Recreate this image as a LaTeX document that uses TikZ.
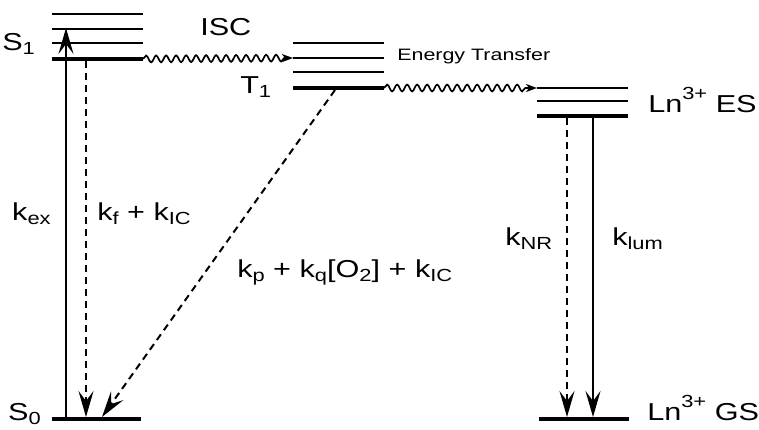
\documentclass[tikz,border=0pt]{standalone}
\usepackage{fontspec}
\setmainfont{Liberation Sans}
\usetikzlibrary{arrows.meta,decorations.pathmorphing}
\newcommand{\mysub}[1]{\raisebox{-0.2em}{\fontsize{17.5}{17.5}\selectfont #1}}
\newcommand{\mysup}[1]{\raisebox{0.5em}{\fontsize{17.5}{17.5}\selectfont #1}}
\tikzset{
 lvl/.style={line width=2.4pt},
 lvlthick/.style={line width=4pt},
 lbl/.style={inner sep=0pt, anchor=base west, font=\fontsize{24.5}{28}\selectfont, xscale=1.25},
 smalllbl/.style={inner sep=0pt, anchor=base west, font=\fontsize{16.5}{20}\selectfont, xscale=1.3},
 arrtip/.style={-{Stealth[length=26pt,width=15pt,inset=10pt]}},
 solidarr/.style={arrtip, line width=2pt},
 dasharr/.style={arrtip, line width=2pt, dash pattern=on 7pt off 5pt},
 wavy/.style={line width=1.7pt, decorate, decoration={snake, amplitude=3.4pt, segment length=10pt, post length=7pt}, -{Stealth[length=11pt,width=8pt,inset=3pt]}},
}
\begin{document}
\begin{tikzpicture}[x=1pt,y=-1pt]
\useasboundingbox (0,0) rectangle (759,429);
% S1 levels
\draw[lvl] (52,14) -- (143,14);
\draw[lvl] (52,29) -- (143,29);
\draw[lvl] (52,43) -- (143,43);
\draw[lvlthick] (52,59) coordinate (s1l) -- (143,59) coordinate (s1r);
% T1 levels
\draw[lvl] (293,43) -- (384,43);
\draw[lvl] (293,58) coordinate (t2l) -- (384,58);
\draw[lvl] (293,72) -- (384,72);
\draw[lvlthick] (293,88) coordinate (t1l) -- (384,88) coordinate (t1r);
% Ln ES levels
\draw[lvl] (537,88) coordinate (esl) -- (628,88);
\draw[lvl] (537,101) -- (628,101);
\draw[lvlthick] (537,116) -- (628,116);
% ground states
\draw[lvlthick] (52,419) -- (141,419);
\draw[lvlthick] (539,419) -- (629,419);
% anchor coordinates for transitions
\coordinate (exb) at (66,419);
\coordinate (ext) at (66,28);
\coordinate (kft) at (86,61);
\coordinate (kfb) at (86,417);
\coordinate (kpt) at (335,90);
\coordinate (kpb) at (102,417);
\coordinate (nrt) at (567,118);
\coordinate (nrb) at (567,417);
\coordinate (lut) at (593,118);
\coordinate (lub) at (593,417);
% transitions
\draw[solidarr] (exb) -- (ext);
\draw[dasharr] (kft) -- (kfb);
\draw[dasharr] (kpt) -- (kpb);
\draw[dasharr] (nrt) -- (nrb);
\draw[solidarr] (lut) -- (lub);
\draw[wavy] (s1r) -- (t2l);
\draw[wavy] (t1r) -- (esl);
% labels
\node[lbl] (S1) at (2,50) {S\mysub{1}};
\node[lbl] (S0) at (8,420) {S\mysub{0}};
\node[lbl] (T1) at (240,93) {T\mysub{1}};
\node[lbl] (isc) at (200,35) {ISC};
\node[smalllbl] (et) at (397,60) {Energy Transfer};
\node[lbl] (lnes) at (648,112) {Ln\mysup{3+} ES};
\node[lbl] (lngs) at (647,420) {Ln\mysup{3+} GS};
\node[lbl] (kex) at (12,220) {k\mysub{ex}};
\node[lbl] (kf) at (97,220) {k\mysub{f} + k\mysub{IC}};
\node[lbl] (kp) at (237,277) {k\mysub{p} + k\mysub{q}[O\mysub{2}] + k\mysub{IC}};
\node[lbl] (knr) at (505,245) {k\mysub{NR}};
\node[lbl] (klum) at (612,245) {k\mysub{lum}};
\end{tikzpicture}
\end{document}
